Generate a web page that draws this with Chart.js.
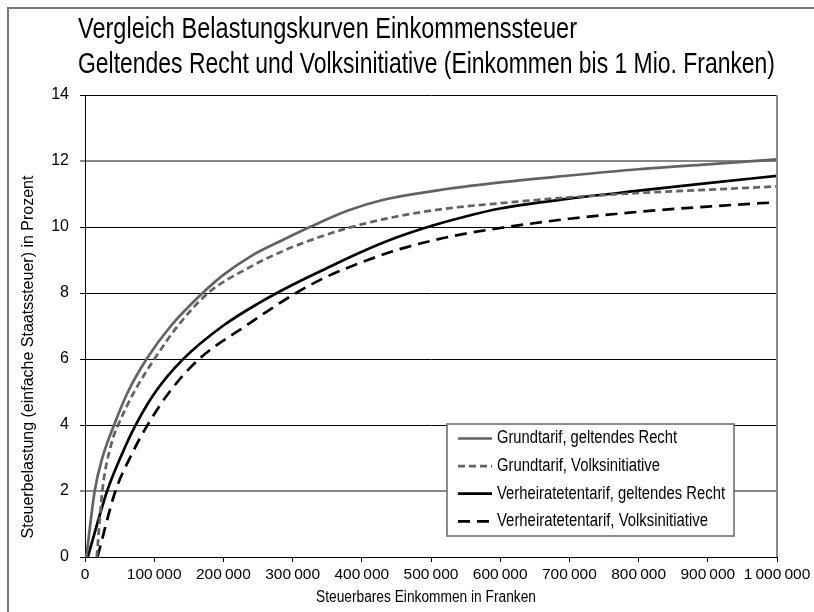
<!DOCTYPE html>
<html>
<head>
<meta charset="utf-8">
<script src="https://cdn.jsdelivr.net/npm/chart.js@4/dist/chart.umd.min.js"></script>
<style>
  html, body { margin: 0; padding: 0; background: #fff; }
</style>
</head>
<body>
<canvas id="chart" width="814" height="612"></canvas>
<script>
const FONT = '"Liberation Sans", Arial, sans-serif';

const titleLines = [
  'Vergleich Belastungskurven Einkommenssteuer',
  'Geltendes Recht und Volksinitiative (Einkommen bis 1 Mio. Franken)'
];
const xTitle = 'Steuerbares Einkommen in Franken';
const yTitle = 'Steuerbelastung (einfache Staatssteuer) in Prozent';
const xTickLabels = ['0', '100\u2009000', '200\u2009000', '300\u2009000', '400\u2009000', '500\u2009000',
  '600\u2009000', '700\u2009000', '800\u2009000', '900\u2009000', '1\u2009000\u2009000'];
const yTicks = [0, 2, 4, 6, 8, 10, 12, 14];

// Grundtarif, geltendes Recht
const grundGeltendX = [2000, 14000, 25000, 42000, 62000, 89000, 124000, 170000, 200000, 240000, 285000,
  325000, 380000, 430000, 500000, 600000, 700000, 800000, 900000, 1000000];
const grundGeltendY = [0, 2, 3, 4, 5, 6, 7, 8, 8.55, 9.12, 9.6, 10, 10.5, 10.82, 11.08, 11.35, 11.56, 11.75, 11.9, 12.05];

// Grundtarif, Volksinitiative
const grundInitX = [17000, 25000, 39000, 48000, 71000, 101000, 134000, 178000, 237000, 286000, 334000,
  382000, 430000, 480000, 530000, 600000, 700000, 800000, 900000, 1000000];
const grundInitY = [0, 2, 3.5, 4, 5, 6.02, 7, 8, 8.77, 9.27, 9.66, 9.98, 10.23, 10.43, 10.58, 10.72, 10.9, 11.03, 11.13, 11.23];

// Verheiratetentarif, geltendes Recht
const verhGeltendX = [4000, 32000, 52000, 72000, 100000, 141000, 199000, 250000, 300000, 350000, 400000,
  450000, 500000, 550000, 600000, 700000, 800000, 900000, 1000000];
const verhGeltendY = [0, 2, 3.05, 3.95, 4.95, 5.98, 7, 7.68, 8.25, 8.76, 9.25, 9.68, 10.03, 10.32, 10.56, 10.86, 11.1, 11.33, 11.55];

// Verheiratetentarif, Volksinitiative
const verhInitX = [18000, 44000, 66000, 89000, 122000, 165000, 232000, 305000, 350000, 400000, 450000,
  500000, 550000, 600000, 700000, 800000, 900000, 1000000];
const verhInitY = [0, 2, 3.05, 3.95, 5, 6, 7, 8, 8.5, 8.93, 9.3, 9.58, 9.8, 9.97, 10.25, 10.46, 10.62, 10.75];

function pts(xs, ys) {
  return xs.map((x, i) => ({ x: x, y: ys[i] }));
}

// draw text squeezed horizontally so it takes the given width
function narrowText(c, text, x, y, width) {
  const sx = width / c.measureText(text).width;
  c.save();
  c.translate(x, y);
  c.scale(sx, 1);
  c.fillText(text, 0, 0);
  c.restore();
}

// frame, heading, axis titles, right border and legend box
const decorations = {
  id: 'decorations',
  beforeDraw(chart) {
    const c = chart.ctx;
    c.save();
    c.strokeStyle = '#777';
    c.lineWidth = 2;
    c.beginPath();
    c.moveTo(8, 612); c.lineTo(8, 8); c.lineTo(814, 8);
    c.stroke();

    c.fillStyle = '#000';
    c.textBaseline = 'alphabetic';
    c.textAlign = 'left';
    c.font = '30px ' + FONT;
    narrowText(c, titleLines[0], 78, 38, 499);
    narrowText(c, titleLines[1], 78, 73, 697);

    c.font = '16px ' + FONT;
    c.textBaseline = 'middle';
    c.textAlign = 'left';
    narrowText(c, xTitle, 316, 598, 220);

    c.textAlign = 'center';
    c.translate(29, 357);
    c.rotate(-Math.PI / 2);
    c.fillText(yTitle, 0, 0);
    c.restore();
  },
  afterDraw(chart) {
    const c = chart.ctx;
    const a = chart.chartArea;
    c.save();
    c.strokeStyle = '#888';
    c.lineWidth = 2;
    c.beginPath();
    c.moveTo(a.right, a.top); c.lineTo(a.right, a.bottom);
    c.stroke();

    // legend
    const bx = 447, by = 424, bw = 287, bh = 112;
    c.fillStyle = '#fff';
    c.fillRect(bx, by, bw, bh);
    c.strokeStyle = '#666';
    c.lineWidth = 1.5;
    c.strokeRect(bx, by, bw, bh);
    c.font = '18px ' + FONT;
    c.textBaseline = 'middle';
    c.textAlign = 'left';
    const widths = [180, 163, 228, 211];
    chart.data.datasets.forEach((ds, i) => {
      const y = 438.5 + i * 27.6;
      c.strokeStyle = ds.borderColor;
      c.lineWidth = ds.borderWidth;
      c.setLineDash(ds.borderDash || []);
      c.beginPath();
      c.moveTo(458, y); c.lineTo(492, y);
      c.stroke();
      c.setLineDash([]);
      c.fillStyle = '#000';
      narrowText(c, ds.label, 497, y, widths[i]);
    });
    c.restore();
  }
};

const special = v => v === 12 || v === 2;

new Chart(document.getElementById('chart'), {
  type: 'line',
  data: {
    datasets: [
      { label: 'Grundtarif, geltendes Recht', data: pts(grundGeltendX, grundGeltendY),
        borderColor: '#636363', borderWidth: 2.7 },
      { label: 'Grundtarif, Volksinitiative', data: pts(grundInitX, grundInitY),
        borderColor: '#636363', borderWidth: 2.7, borderDash: [7, 4] },
      { label: 'Verheiratetentarif, geltendes Recht', data: pts(verhGeltendX, verhGeltendY),
        borderColor: '#000', borderWidth: 2.7 },
      { label: 'Verheiratetentarif, Volksinitiative', data: pts(verhInitX, verhInitY),
        borderColor: '#000', borderWidth: 2.7, borderDash: [12, 7] }
    ]
  },
  options: {
    responsive: false,
    animation: false,
    events: [],
    layout: { padding: { left: 16, right: 37, top: 95, bottom: 0 } },
    elements: {
      point: { radius: 0 },
      line: { cubicInterpolationMode: 'monotone', fill: false }
    },
    plugins: {
      legend: { display: false },
      title: { display: false },
      tooltip: { enabled: false }
    },
    scales: {
      x: {
        type: 'linear',
        min: 0,
        max: 1000000,
        afterFit(scale) { scale.height = 55; },
        afterBuildTicks(scale) {
          scale.ticks = xTickLabels.map((l, i) => ({ value: i * 100000 }));
        },
        ticks: {
          autoSkip: false,
          maxRotation: 0,
          padding: 3,
          color: '#000',
          font: { family: FONT, size: 15.5 },
          callback: (v, i) => xTickLabels[i]
        },
        grid: { drawOnChartArea: false, drawTicks: true, tickLength: 5, color: '#000' },
        border: { color: '#000', width: 1 }
      },
      y: {
        min: 0,
        max: 14,
        afterFit(scale) { scale.width = 69; },
        afterBuildTicks(scale) {
          scale.ticks = yTicks.map(v => ({ value: v }));
        },
        ticks: {
          color: '#000',
          padding: 11,
          font: { family: FONT, size: 16 }
        },
        grid: {
          color: ctx => special(ctx.tick && ctx.tick.value) ? '#888' : '#000',
          lineWidth: ctx => special(ctx.tick && ctx.tick.value) ? 2 : 1,
          tickLength: 5
        },
        border: { color: '#000', width: 1 }
      }
    }
  },
  plugins: [decorations]
});
</script>
</body>
</html>
